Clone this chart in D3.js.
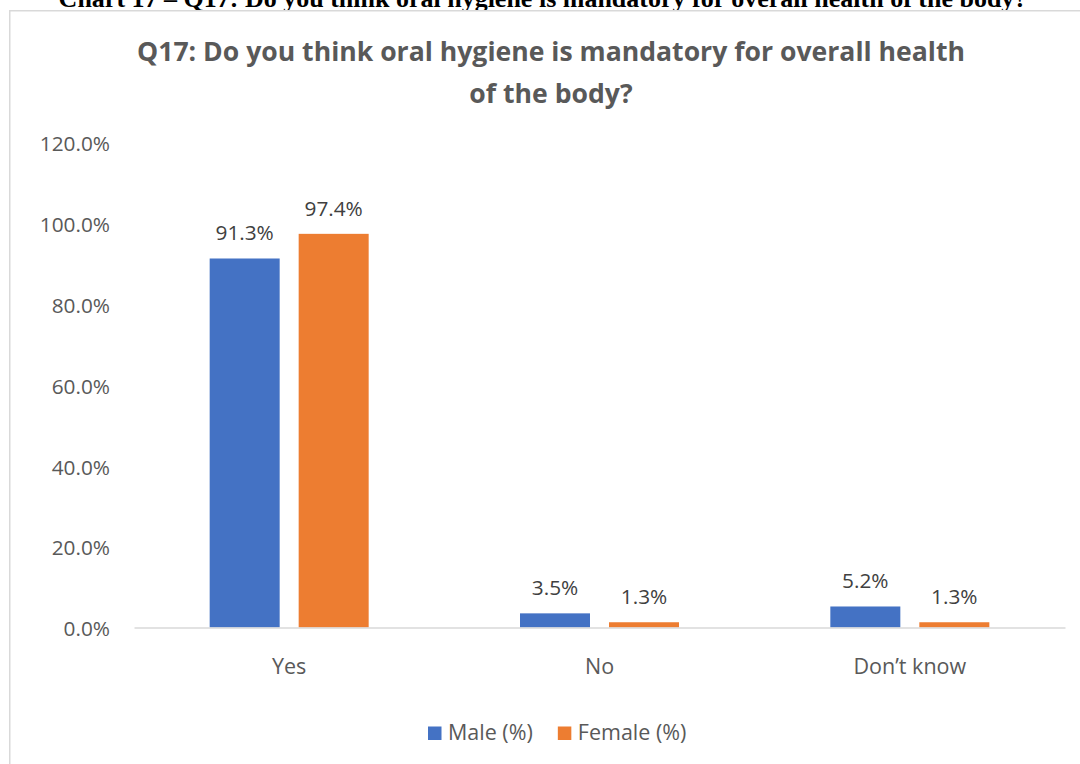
<!DOCTYPE html>
<html>
<head>
<meta charset="utf-8">
<script src="https://cdn.jsdelivr.net/npm/d3@7"></script>
<style>
  html, body { margin: 0; padding: 0; background: #fff; overflow: hidden; }
  svg { display: block; }
</style>
</head>
<body>
<svg id="chart" width="1080" height="764"></svg>
<script>
// Survey answers by gender
const categories = ["Yes", "No", "Don\u2019t know"];
const seriesNames = ["Male (%)", "Female (%)"];
const maleValues = [91.3, 3.5, 5.2];
const femaleValues = [97.4, 1.3, 1.3];
const yTicks = [0, 20, 40, 60, 80, 100, 120];
const seriesColors = ["#4472C4", "#ED7D31"];

const captionText = "Chart 17 \u2013 Q17: Do you think oral hygiene is mandatory for overall health of the body?";
const titleLines = ["Q17: Do you think oral hygiene is mandatory for overall health", "of the body?"];

const svg = d3.select("#chart");
const font = "'Open Sans', 'Noto Sans', sans-serif";

// Document caption above the chart frame (runs off the page top)
svg.append("text")
  .attr("x", 543).attr("y", 7)
  .attr("text-anchor", "middle")
  .style("font-family", "'Liberation Serif', 'Times New Roman', serif")
  .style("font-weight", "bold")
  .style("font-size", "26px")
  .attr("fill", "#000")
  .text(captionText);

// Chart area frame
svg.append("rect")
  .attr("x", 9.75).attr("y", 10.75)
  .attr("width", 1200).attr("height", 900)
  .attr("fill", "#fff")
  .attr("stroke", "#d9d9d9")
  .attr("stroke-width", 1.5);

// Title
svg.append("g").selectAll("text")
  .data(titleLines)
  .join("text")
  .attr("x", 551)
  .attr("y", (d, i) => 61 + i * 42)
  .attr("text-anchor", "middle")
  .style("font-family", font)
  .style("font-weight", "bold")
  .style("font-size", "26.6px")
  .attr("fill", "#595959")
  .text(d => d);

// Scales
const x = d3.scaleBand().domain(categories).range([134, 1065]).paddingInner(0).paddingOuter(0);
const groupW = 159;
const xs = d3.scaleBand().domain(seriesNames)
  .range([(x.bandwidth() - groupW) / 2, (x.bandwidth() + groupW) / 2])
  .paddingInner(19 / 89).paddingOuter(0);
const y = d3.scaleLinear().domain([0, 120]).range([627.5, 142.5]);

// Y axis labels (no gridlines)
const yAxis = d3.axisLeft(y).tickValues(yTicks).tickSize(0).tickPadding(0)
  .tickFormat(d => d.toFixed(1) + "%");
const yg = svg.append("g").attr("transform", "translate(110,0)").call(yAxis);
yg.select(".domain").remove();
yg.selectAll("text")
  .attr("dy", "0.4em")
  .style("font-family", font)
  .style("font-size", "20.8px")
  .attr("fill", "#595959");

// Bars
const data = categories.map((c, i) => ({
  category: c,
  values: [
    { series: seriesNames[0], value: maleValues[i], color: seriesColors[0] },
    { series: seriesNames[1], value: femaleValues[i], color: seriesColors[1] }
  ]
}));

const groups = svg.append("g").selectAll("g")
  .data(data)
  .join("g")
  .attr("transform", d => `translate(${x(d.category)},0)`);

groups.selectAll("rect")
  .data(d => d.values)
  .join("rect")
  .attr("x", d => xs(d.series))
  .attr("y", d => y(d.value))
  .attr("width", xs.bandwidth())
  .attr("height", d => y(0) - y(d.value))
  .attr("fill", d => d.color);

// Value labels
groups.selectAll("text.val")
  .data(d => d.values)
  .join("text")
  .attr("class", "val")
  .attr("x", d => xs(d.series) + xs.bandwidth() / 2)
  .attr("y", d => y(d.value) - 18)
  .attr("text-anchor", "middle")
  .style("font-family", font)
  .style("font-size", "20.8px")
  .attr("fill", "#404040")
  .text(d => d.value.toFixed(1) + "%");

// X axis baseline and category labels
const xAxis = d3.axisBottom(x).tickSize(0).tickPadding(0);
const xg = svg.append("g").attr("transform", `translate(0,${y(0)})`).call(xAxis);
xg.select(".domain").attr("stroke", "#d9d9d9").attr("stroke-width", 1.5);
xg.selectAll("text")
  .attr("dy", null)
  .attr("y", 46)
  .style("font-family", font)
  .style("font-size", "21.5px")
  .attr("fill", "#595959");

// Legend
const legend = svg.append("g").attr("transform", "translate(428,726.5)");
let lx = 0;
seriesNames.forEach((name, i) => {
  const item = legend.append("g").attr("transform", `translate(${lx},0)`);
  item.append("rect").attr("width", 13.5).attr("height", 13.5).attr("fill", seriesColors[i]);
  const t = item.append("text")
    .attr("x", 20).attr("y", 13.5)
    .style("font-family", font)
    .style("font-size", "21.5px")
    .attr("fill", "#595959")
    .text(name);
  lx += 20 + t.node().getComputedTextLength() + 25;
});
</script>
</body>
</html>
